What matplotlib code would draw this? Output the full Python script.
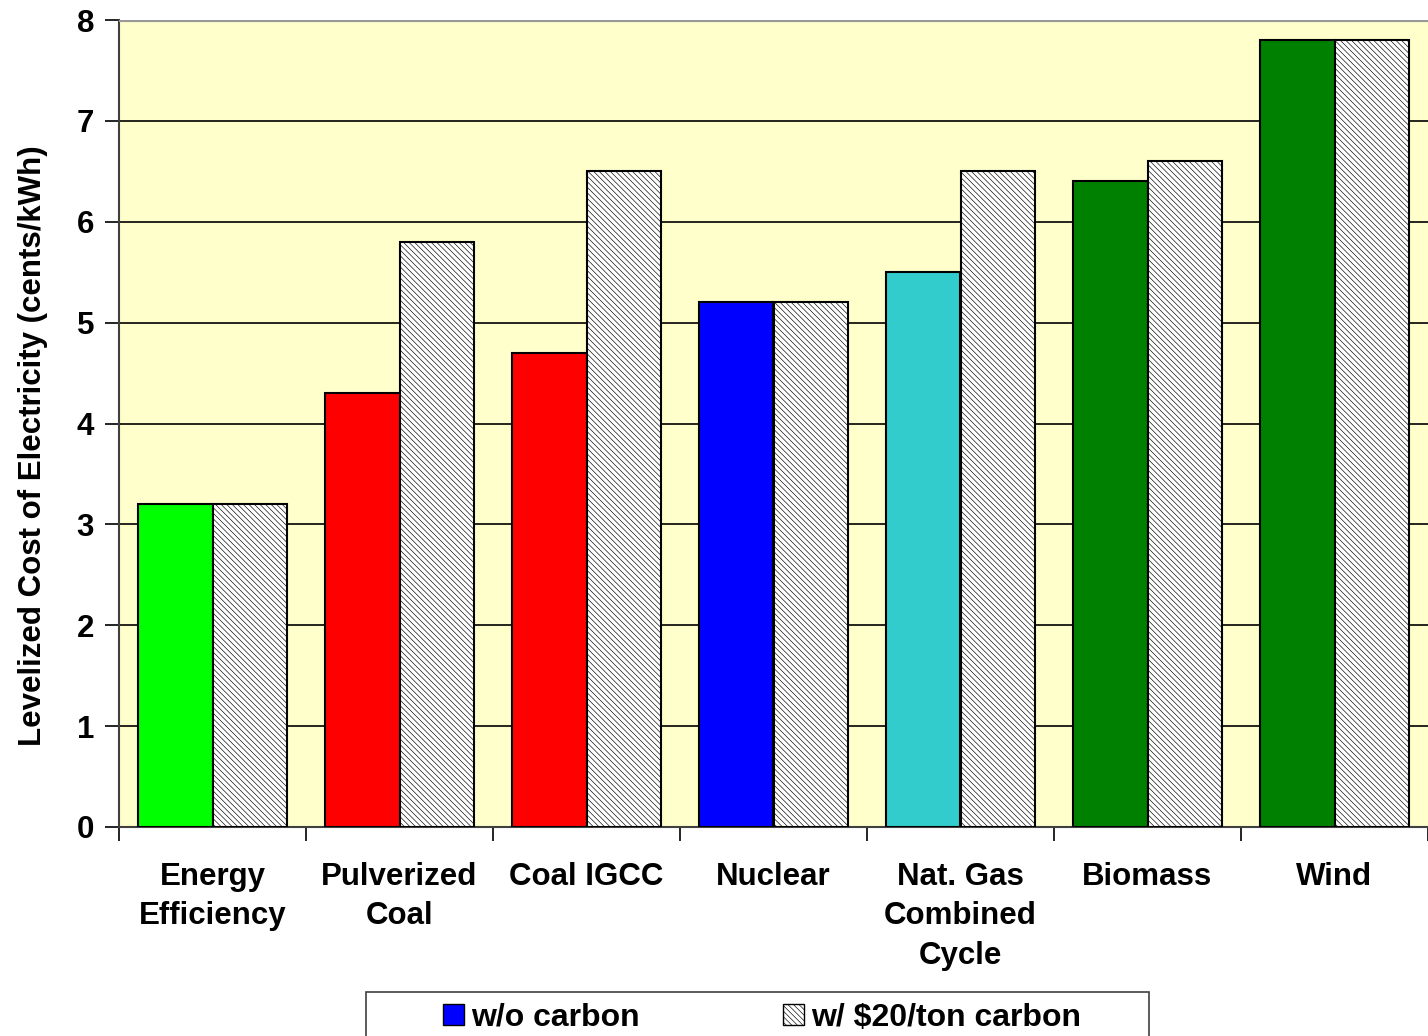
import matplotlib.pyplot as plt
from matplotlib.patches import Patch, Rectangle
import numpy as np

plt.rcParams['font.family'] = ['Liberation Sans', 'DejaVu Sans']
plt.rcParams['font.weight'] = 'bold'
plt.rcParams['hatch.color'] = '#8C8C8C'
plt.rcParams['hatch.linewidth'] = 0.45

# data
categories = ['Energy\nEfficiency', 'Pulverized\nCoal', 'Coal IGCC', 'Nuclear',
              'Nat. Gas\nCombined\nCycle', 'Biomass', 'Wind']
wo_carbon = [3.2, 4.3, 4.7, 5.2, 5.5, 6.4, 7.8]
w_carbon = [3.2, 5.8, 6.5, 5.2, 6.5, 6.6, 7.8]
bar_colors = ['#00FF00', '#FF0000', '#FF0000', '#0000FF', '#33CCCC', '#008000', '#008000']
series_names = ['w/o carbon', 'w/ $20/ton carbon']

HATCH = '\\\\\\\\\\\\'

fig = plt.figure(figsize=(14.28, 10.36), dpi=100)
ax = fig.add_axes([119/1428, 1-827/1036, 1-119/1428, (827-20)/1036])
ax.set_facecolor('#FFFFCC')

x = np.arange(len(categories))
w = 0.40
ax.bar(x - w/2, wo_carbon, w, color=bar_colors, edgecolor='black', linewidth=1.5, zorder=3)
ax.bar(x + w/2, w_carbon, w, color='white', edgecolor='black', linewidth=1.5,
       hatch=HATCH, zorder=3)

ax.set_xlim(-0.5, len(categories) - 0.5)
ax.set_ylim(0, 8)
ax.set_yticks(range(0, 9))
ax.yaxis.grid(True, color='black', linewidth=1.2, zorder=1)
ax.tick_params(axis='y', labelsize=22.5, length=10, width=1.2, pad=8)

ax.set_xticks(np.arange(-0.5, len(categories)), minor=False)
ax.set_xticklabels([])
ax.set_xticks(x, minor=True)
ax.set_xticklabels(categories, minor=True, fontsize=22.5, fontweight='bold', linespacing=1.42, va='top')
ax.tick_params(axis='x', which='major', length=10, width=1.2)
ax.tick_params(axis='x', which='minor', length=0, pad=25)

for s in ['top', 'right']:
    ax.spines[s].set_visible(False)
ax.spines['left'].set_color('#404040')
ax.spines['left'].set_linewidth(1.5)
ax.spines['bottom'].set_color('#404040')
ax.spines['bottom'].set_linewidth(1.5)
ax.axhline(8, color='#999999', linewidth=3, zorder=4)

ax.set_ylabel('Levelized Cost of Electricity (cents/kWh)', fontsize=22.5, fontweight='bold')
ax.yaxis.set_label_coords(-0.054, 0.473)

# legend box (bottom edge runs off the figure)
fig.add_artist(Rectangle((366/1428, 0 - 0.02), (1149-366)/1428, (1036-992)/1036 + 0.02,
                         transform=fig.transFigure, facecolor='white', edgecolor='#404040',
                         linewidth=1.2, clip_on=False))
handles = [Patch(facecolor='#0000FF', edgecolor='black'),
           Patch(facecolor='white', edgecolor='black', hatch=HATCH)]
leg = fig.legend(handles, series_names, loc='center left',
                 bbox_to_anchor=(443/1428, 1-1018/1036), ncol=2, fontsize=23, frameon=False,
                 handlelength=0.65, handleheight=0.65, borderpad=0, borderaxespad=0,
                 handletextpad=0.22, columnspacing=4.5)
for t in leg.get_texts():
    t.set_fontweight('bold')

fig.savefig('out.png', dpi=100)
